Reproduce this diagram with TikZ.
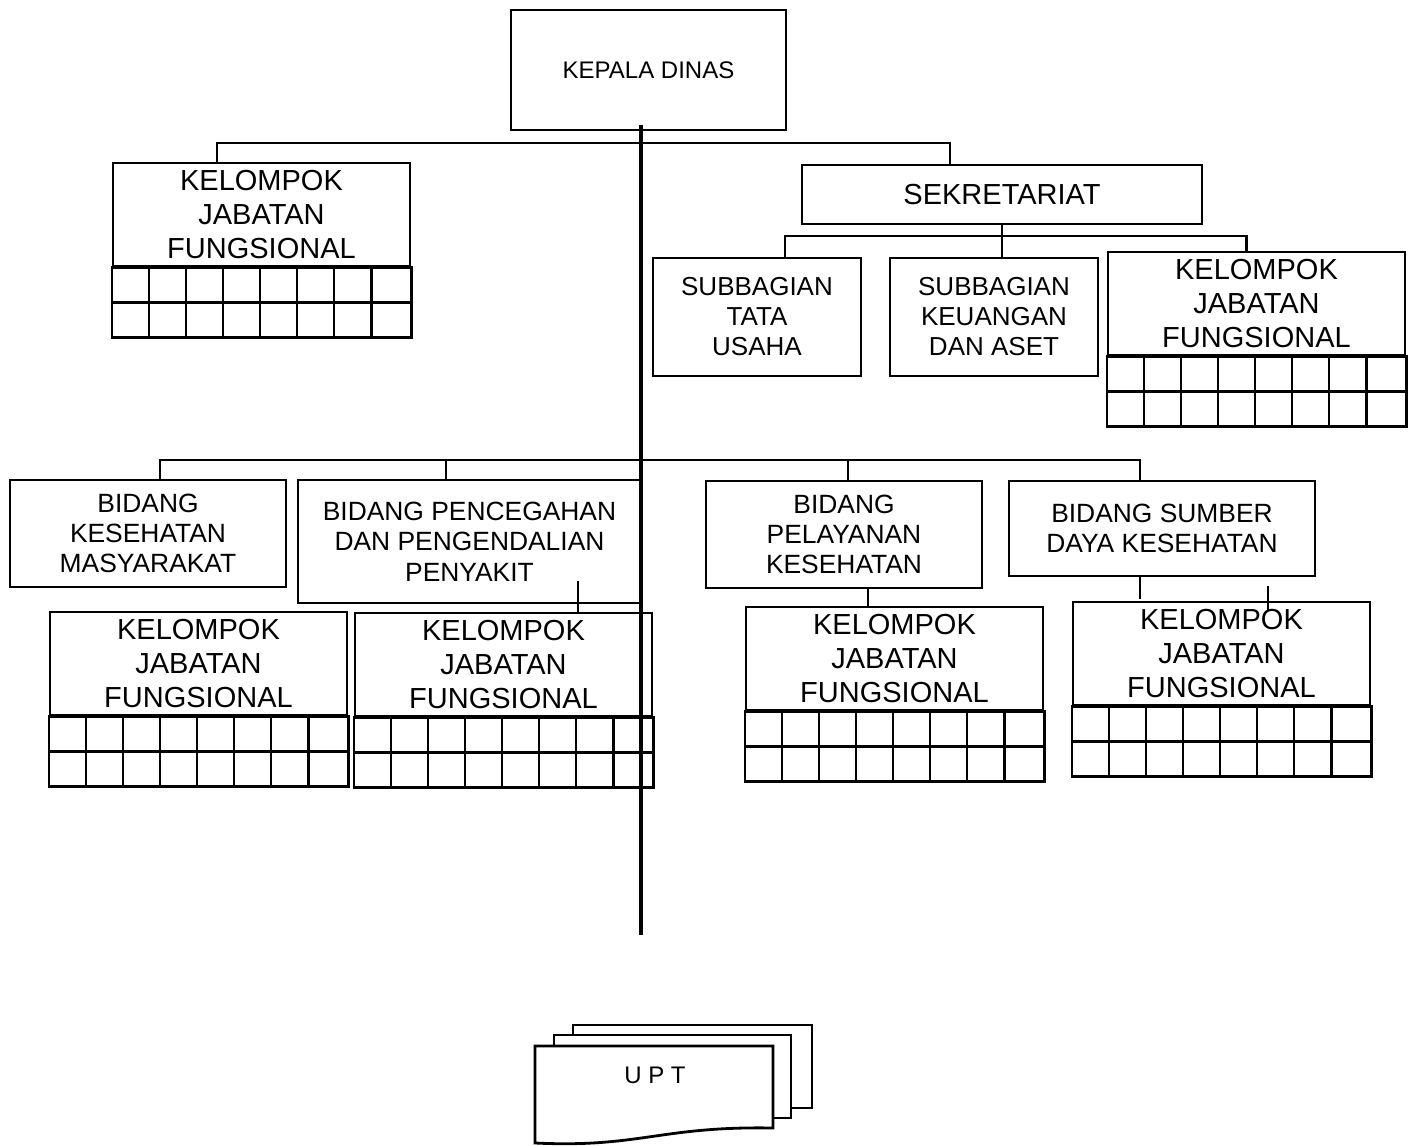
\documentclass[tikz,border=0pt]{standalone}
\usepackage{fontspec}
\setmainfont{Liberation Sans}
\usetikzlibrary{calc}

\begin{document}
\begin{tikzpicture}[x=0.5pt,y=-0.5pt,
  box/.style={draw,line width=1.4pt,align=center,inner sep=0pt},
  kepala/.style={box,minimum width=137.5pt,minimum height=60pt,font=\fontsize{12}{14}\selectfont},
  jabfung/.style={box,minimum width=148.5pt,minimum height=51.5pt,font=\fontsize{14.5}{17}\selectfont},
  subbag/.style={box,minimum width=104pt,minimum height=59pt,font=\fontsize{13}{15}\selectfont},
  bidang/.style={box,font=\fontsize{13.2}{15.2}\selectfont},
  garis/.style={line width=1.3pt},
  sel/.style={line width=1.1pt},
  lembar/.style={draw,fill=white,line width=1.4pt}]

  \useasboundingbox (0,0) rectangle (1415,1146);

  \node[kepala] (kadis) at (648.5,70) {KEPALA DINAS};
  \node[jabfung] (kjfA) at (261.5,214.5) {KELOMPOK\\JABATAN\\FUNGSIONAL};

  \node[box,minimum width=200pt,minimum height=29.5pt,font=\fontsize{14.5}{17}\selectfont]
        (sekre) at (1002,194.5) {SEKRETARIAT};
  \node[subbag] (subTU) at (757,317) {SUBBAGIAN\\TATA\\USAHA};
  \node[subbag] (subKeu) at (994,317) {SUBBAGIAN\\KEUANGAN\\DAN ASET};
  \node[jabfung] (kjfB) at (1256.5,303.5) {KELOMPOK\\JABATAN\\FUNGSIONAL};

  \node[bidang,minimum width=138pt,minimum height=53.5pt] (bidKesmas) at (148,533.5) {BIDANG\\KESEHATAN\\MASYARAKAT};
  \node[bidang,minimum width=171.5pt,minimum height=61.5pt] (bidP2P) at (469.5,541.5) {BIDANG PENCEGAHAN\\DAN PENGENDALIAN\\PENYAKIT};
  \node[bidang,minimum width=138pt,minimum height=53.5pt] (bidYankes) at (844,534.5) {BIDANG\\PELAYANAN\\KESEHATAN};
  \node[bidang,minimum width=153pt,minimum height=47.5pt] (bidSDK) at (1162,528.5) {BIDANG SUMBER\\DAYA KESEHATAN};

  \node[jabfung] (kjfC) at (198.5,663.5) {KELOMPOK\\JABATAN\\FUNGSIONAL};
  \node[jabfung] (kjfD) at (503.5,664.5) {KELOMPOK\\JABATAN\\FUNGSIONAL};
  \node[jabfung] (kjfE) at (894.5,658.5) {KELOMPOK\\JABATAN\\FUNGSIONAL};
  \node[jabfung] (kjfF) at (1221.5,653.5) {KELOMPOK\\JABATAN\\FUNGSIONAL};

  % kotak-kotak di bawah tiap kelompok jabatan fungsional
  \foreach \k in {kjfA,kjfB,kjfC,kjfD,kjfE,kjfF}{
    \draw[sel] (\k.south west) rectangle ([yshift=-35pt]\k.south east);
    \draw[sel] ([yshift=-17.5pt]\k.south west) -- ([yshift=-17.5pt]\k.south east);
    \foreach \i in {1,...,7}
      \draw[sel] ([xshift=\i*18.5625pt]\k.south west) -- ([xshift=\i*18.5625pt,yshift=-35pt]\k.south west);
  }

  % UPT
  \draw[lembar] (573,1025) -- (812,1025) -- (812,1108) -- (573,1108) -- cycle;
  \draw[lembar] (554,1035) -- (791,1035) -- (791,1118) -- (554,1118) -- cycle;
  \draw[lembar] (535,1046) -- (773,1046) -- (773,1128)
        .. controls (660,1126) and (640,1148) .. (535,1143) -- cycle;
  \node[font=\fontsize{12}{14}\selectfont] (upt) at (655,1075) {U P T};

  \coordinate (ujung) at (641,935);
  \coordinate (bus1) at (641,143);
  \coordinate (bus2) at (1002,236);
  \coordinate (bus3) at (641,460);

  \draw[line width=1.6pt] ([yshift=3pt]ujung |- kadis.south) -- (ujung);

  \draw[garis] ([xshift=-22.25pt]kjfA.north) |- (bus1) -| ([xshift=-26pt]sekre.north);
  \draw[garis] (sekre.south) -- (sekre.south |- subKeu.north);
  \draw[garis] ([xshift=14pt]subTU.north) |- (bus2) -| ([xshift=-5pt]kjfB.north);

  \draw[garis] ([xshift=6pt]bidKesmas.north) |- (bus3) -| ([xshift=-11pt]bidSDK.north);
  \draw[garis] ([xshift=-11.75pt]bidP2P.north) -- ([xshift=-11.75pt]bidP2P.north |- bus3);
  \draw[garis] ([xshift=2pt]bidYankes.north) -- ([xshift=2pt]bidYankes.north |- bus3);

  \draw[garis] ([xshift=54.25pt,yshift=11.5pt]bidP2P.south) -- ([xshift=54.25pt]bidP2P.south |- kjfD.north);
  \draw[garis] ([xshift=12pt]bidYankes.south) -- ([xshift=12pt]bidYankes.south |- kjfE.north);
  \draw[garis] ([xshift=-11pt]bidSDK.south) -- ([xshift=-11pt,yshift=-11pt]bidSDK.south);
  \draw[garis] ([xshift=23.25pt,yshift=7.5pt]kjfF.north) -- ([xshift=23.25pt,yshift=-5pt]kjfF.north);
\end{tikzpicture}
\end{document}
